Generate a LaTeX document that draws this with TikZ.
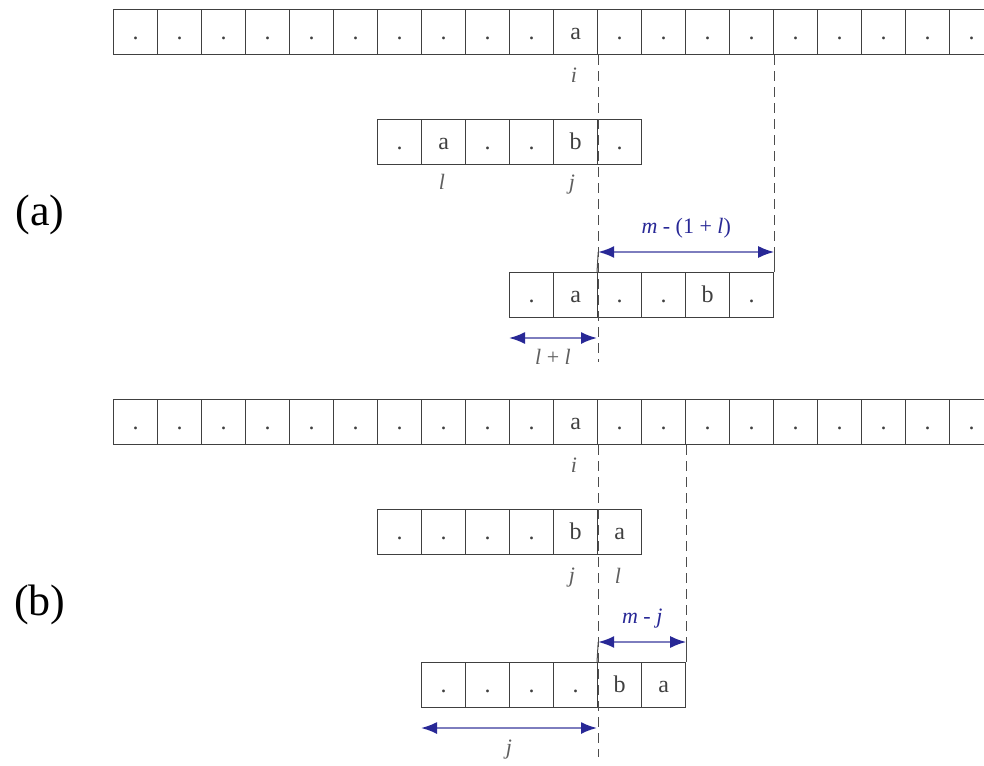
\documentclass[tikz,border=0pt]{standalone}
\usepackage{fontspec}
\setmainfont{Liberation Serif}
\usetikzlibrary{positioning, arrows.meta}
\definecolor{dimblue}{RGB}{40,40,150}
\definecolor{shaftblue}{RGB}{125,125,190}
\definecolor{lblgray}{RGB}{95,95,95}

\begin{document}
\begin{tikzpicture}[x=0.5pt, y=-0.5pt,
        cell/.style={draw=black!75, line width=0.6pt, minimum width=22pt, minimum height=22.5pt,
            inner sep=0pt, anchor=north west, text height=8.5pt, text depth=1pt,
            font=\fontsize{12}{14}\selectfont, text=black!75},
        idx/.style={font=\fontsize{11}{13}\selectfont\itshape, text=lblgray},
        guide/.style={draw=black!70, dash pattern=on 5pt off 3pt, line width=0.5pt},
        tick/.style={draw=black!70, line width=0.5pt},
        dim/.style={draw=shaftblue, line width=0.9pt,
            {Latex[length=8pt,width=6pt,color=dimblue]}-{Latex[length=8pt,width=6pt,color=dimblue]}},
        dimlabel/.style={font=\fontsize{11}{13}\selectfont, text=dimblue},
        dimgray/.style={font=\fontsize{11}{13}\selectfont, text=lblgray},
        part/.style={font=\fontsize{22}{26}\selectfont}
    ]
    \clip (0,0) rectangle (984,765);

    % (a)
    \node[part] (pa) at (40,215) {(a)};
    \foreach \k in {0,...,19} {
        \ifnum\k=10 \def\c{a}\else\def\c{.}\fi
        \node[cell] (ta\k) at ({113+44*\k},9) {\c};
    }
    \foreach \c [count=\k from 0] in {.,a,.,.,b,.}
        \node[cell] (ma\k) at ({377+44*\k},119) {\c};
    \foreach \c [count=\k from 0] in {.,a,.,.,b,.}
        \node[cell] (la\k) at ({509+44*\k},272) {\c};
    \node[idx] (ia) at (574,75) {i};
    \node[idx] (lta) at (442,182) {l};
    \node[idx] (jta) at (572,185) {j};

    \coordinate (ra1) at (ta10.south east |- 0,252);
    \coordinate (ra2) at (la5.north east |- 0,252);
    \coordinate (rb1) at (la0.south west |- 0,338);
    \coordinate (rb2) at (la2.south west |- 0,338);
    \draw[guide] (ta10.south east) -- (ta10.south east |- 0,362);
    \draw[guide] (ta14.south east) -- (ra2);
    \draw[tick] (ra1) -- (la2.north west);
    \draw[tick] (ra2) -- (la5.north east);
    \draw[dim] (ra1) -- node[dimlabel, above=3pt] {\textit{m} - (1 + \textit{l})} (ra2);
    \draw[dim] (rb1) -- node[dimgray, below=2pt] {\textit{l} + \textit{l}} (rb2);

    % (b)
    \node[part] (pb) at (40,605) {(b)};
    \foreach \k in {0,...,19} {
        \ifnum\k=10 \def\c{a}\else\def\c{.}\fi
        \node[cell] (tb\k) at ({113+44*\k},399) {\c};
    }
    \foreach \c [count=\k from 0] in {.,.,.,.,b,a}
        \node[cell] (mb\k) at ({377+44*\k},509) {\c};
    \foreach \c [count=\k from 0] in {.,.,.,.,b,a}
        \node[cell] (lb\k) at ({421+44*\k},662) {\c};
    \node[idx] (ib) at (574,465) {i};
    \node[idx] (jtb) at (572,578) {j};
    \node[idx] (ltb) at (618,576) {l};

    \coordinate (rc1) at (tb10.south east |- 0,642);
    \coordinate (rc2) at (lb5.north east |- 0,642);
    \coordinate (rd1) at (lb0.south west |- 0,728);
    \coordinate (rd2) at (lb4.south west |- 0,728);
    \draw[guide] (tb10.south east) -- (tb10.south east |- 0,757);
    \draw[guide] (tb12.south east) -- (rc2);
    \draw[tick] (rc1) -- (lb4.north west);
    \draw[tick] (rc2) -- (lb5.north east);
    \draw[dim] (rc1) -- node[dimlabel, above=3pt] {\textit{m} - \textit{j}} (rc2);
    \draw[dim] (rd1) -- node[dimgray, below=2pt, idx] {j} (rd2);
\end{tikzpicture}
\end{document}
